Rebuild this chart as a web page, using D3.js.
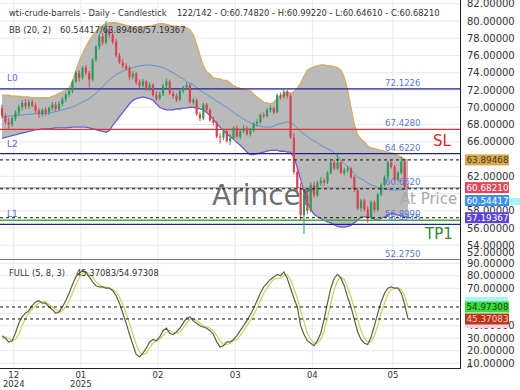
<!DOCTYPE html>
<html>
<head>
<meta charset="utf-8">
<script src="https://cdn.jsdelivr.net/npm/d3@7"></script>
<style>
body { margin: 0; background: #fff; }
svg { display: block; font-family: "DejaVu Sans", sans-serif; }
</style>
</head>
<body>
<svg id="chart" width="520" height="390"></svg>
<script>
// candles, one per daily bar (122 bars shown)
var opens = [69.9,69.0,68.3,68.0,68.7,69.4,70.0,70.5,70.1,70.6,70.2,69.6,69.2,69.7,69.4,69.9,70.3,69.8,70.4,70.9,
  71.5,71.9,73.0,74.0,73.4,74.6,74.0,73.2,75.5,77.0,78.2,77.5,79.0,78.4,77.6,76.0,75.2,74.8,74.5,73.5,
  73.9,72.9,72.5,73.0,72.2,72.6,71.4,71.0,71.5,72.5,73.0,71.6,71.3,70.9,71.9,72.3,72.6,70.6,70.8,69.2,
  68.7,70.3,69.7,68.5,68.2,66.6,66.5,67.2,66.1,66.4,67.6,66.6,67.2,67.6,66.9,67.3,68.1,68.3,69.1,69.0,
  69.7,69.9,69.4,71.4,71.2,71.8,71.3,66.5,62.5,60.6,57.5,59.9,58.0,61.0,59.8,61.2,61.5,61.3,62.4,63.6,
  62.9,63.6,62.4,62.7,62.9,61.9,60.4,58.3,59.2,58.2,57.2,59.0,58.1,59.9,61.0,61.9,63.6,63.1,61.6,62.4,
  63.7,60.7482];
var highs = [70.3,69.3,68.8,68.9,69.6,70.3,70.8,70.9,70.9,70.9,70.5,69.9,69.9,70.0,70.1,70.6,70.6,70.7,71.2,71.7,
  72.2,73.2,74.2,74.3,74.8,74.9,74.2,75.7,77.2,78.5,78.6,80.0,79.4,78.7,77.9,76.3,75.6,75.1,74.8,74.2,
  74.1,73.2,73.3,73.2,72.9,72.8,71.8,71.8,72.7,73.3,73.2,71.9,71.6,72.1,72.5,72.9,72.8,71.1,71.0,69.5,
  70.5,70.5,69.9,68.9,68.4,67.0,67.4,67.4,66.8,67.8,67.9,67.4,67.9,67.8,67.6,68.3,68.6,69.3,69.4,69.9,
  70.2,70.1,71.6,71.7,72.2,72.0,71.5,67.0,63.0,61.2,60.2,60.4,61.3,61.4,61.5,61.9,61.8,62.6,63.8,63.9,
  64.6,63.8,63.0,63.2,63.1,62.1,60.6,59.4,59.4,58.5,59.2,59.2,60.1,61.2,62.1,63.8,63.9,63.3,62.6,64.3,
  63.9,60.9922];
var lows = [68.7,68.0,67.5,67.7,68.4,69.0,69.6,69.8,69.8,70.0,69.3,68.8,68.9,69.0,69.1,69.6,69.5,69.6,70.1,70.6,
  71.2,71.6,72.8,73.0,73.2,73.7,72.3,73.0,75.3,76.7,77.2,77.3,78.0,77.3,75.8,75.0,74.5,74.2,73.2,73.2,
  72.6,72.2,72.3,71.9,71.9,71.2,70.7,70.8,71.3,72.2,71.4,71.0,70.6,70.7,71.6,72.0,70.4,70.3,69.0,68.4,
  68.5,69.4,68.3,67.9,66.4,65.8,66.2,65.9,65.6,66.2,66.4,66.3,67.0,66.7,66.6,67.1,67.8,68.1,68.7,68.8,
  69.4,69.2,69.3,70.9,71.0,71.0,66.3,62.2,60.3,56.9,55.3,57.6,57.8,59.5,59.6,60.9,60.9,61.1,62.2,62.7,
  62.7,62.2,62.1,62.4,61.7,60.2,58.1,57.9,57.9,56.6,57.0,57.8,57.9,59.7,60.8,61.7,62.9,61.4,61.4,62.2,
  60.6,60.6461];
var closes = [69.0,68.3,68.0,68.7,69.4,70.0,70.5,70.1,70.6,70.2,69.6,69.2,69.7,69.4,69.9,70.3,69.8,70.4,70.9,71.5,
  71.9,73.0,74.0,73.4,74.6,74.0,73.2,75.5,77.0,78.2,77.5,79.0,78.4,77.6,76.0,75.2,74.8,74.5,73.5,73.9,
  72.9,72.5,73.0,72.2,72.6,71.4,71.0,71.5,72.5,73.0,71.6,71.3,70.9,71.9,72.3,72.6,70.6,70.8,69.2,68.7,
  70.3,69.7,68.5,68.2,66.6,66.5,67.2,66.1,66.4,67.6,66.6,67.2,67.6,66.9,67.3,68.1,68.3,69.1,69.0,69.7,
  69.9,69.4,71.4,71.2,71.8,71.3,66.5,62.5,60.6,57.5,59.9,58.0,61.0,59.8,61.2,61.5,61.3,62.4,63.6,62.9,
  63.6,62.4,62.7,62.9,61.9,60.4,58.3,59.2,58.2,57.2,59.0,58.1,59.9,61.0,61.9,63.6,63.1,61.6,62.4,63.7,
  60.75,60.6821];

// Bollinger bands (20, 2)
var bbUpper = [71.4,71.4,71.4,71.3,71.3,71.3,71.2,71.2,71.2,71.1,71.1,71.1,71.1,71.1,71.1,71.25,71.4,71.6,71.8,72.0,
  72.2,73.0,74.2,75.3,76.2,77.0,77.7,78.3,78.8,79.2,79.5,79.7,79.8,79.8,79.8,79.7,79.6,79.5,79.4,79.3,
  79.3,79.3,79.3,79.4,79.4,79.5,79.6,79.7,79.7,79.6,79.5,79.4,79.4,79.3,79.3,79.2,79.0,78.4,77.3,76.0,
  74.8,74.1,73.8,73.4,73.3,73.3,73.1,73.1,72.8,72.5,72.3,72.2,72.0,72.0,71.9,71.5,71.2,70.9,70.6,70.5,
  70.4,70.6,71.0,71.3,71.5,71.8,71.6,71.8,72.2,72.8,73.6,74.3,74.5,74.7,74.8,74.9,74.9,74.8,74.8,74.7,
  74.6,74.3,73.5,72.0,70.0,68.0,66.8,66.3,66.0,65.5,65.3,65.2,65.1,65.0,64.9,64.8,64.7,64.6,64.4,64.2,
  64.0,63.89468];
var bbMid = [68.9,68.95,69.0,69.0,69.05,69.1,69.1,69.15,69.2,69.2,69.25,69.25,69.3,69.3,69.3,69.4,69.5,69.6,69.7,69.8,
  69.9,70.05,70.2,70.4,70.6,70.8,71.0,71.3,71.6,72.0,72.4,72.8,73.2,73.5,73.8,74.0,74.2,74.4,74.5,74.6,
  74.7,74.8,74.85,74.9,74.9,74.85,74.8,74.7,74.6,74.4,74.2,74.0,73.8,73.5,73.3,73.0,72.8,72.6,72.3,72.0,
  71.7,71.5,71.2,71.0,70.7,70.5,70.2,70.0,69.7,69.4,69.1,68.9,68.6,68.4,68.2,68.0,67.9,67.8,67.7,67.7,
  67.7,67.8,68.0,68.1,68.2,68.3,68.2,68.0,67.6,67.2,66.9,66.6,66.3,66.1,65.9,65.6,65.4,65.2,65.0,64.7,
  64.3,63.9,63.5,63.1,62.7,62.3,61.9,61.7,61.5,61.2,61.0,60.9,60.7,60.6,60.5,60.45,60.4,60.4,60.4,60.45,
  60.5,60.54417];
var bbLower = [66.4,66.5,66.6,66.7,66.8,66.9,67.0,67.1,67.2,67.3,67.4,67.4,67.5,67.5,67.5,67.55,67.6,67.6,67.6,67.6,
  67.65,67.7,67.7,67.7,67.7,67.7,67.6,67.5,67.4,67.3,67.2,67.1,67.3,67.9,68.4,68.9,69.4,69.9,70.4,70.8,
  71.0,71.1,71.2,71.1,71.0,70.8,70.4,70.0,69.8,69.7,69.7,69.7,69.8,69.8,69.9,69.9,70.0,70.0,69.9,69.8,
  69.7,69.4,69.0,68.6,68.1,67.7,67.3,66.9,66.6,66.3,65.9,65.6,65.2,64.8,64.5,64.5,64.6,64.7,64.8,64.9,
  65.0,65.0,65.0,64.9,64.9,64.8,64.8,64.2,63.0,61.6,60.2,58.9,58.2,57.6,57.3,57.1,56.9,56.7,56.6,56.4,
  56.2,56.1,56.1,56.2,56.3,56.6,56.9,57.3,57.3,57.3,57.2,57.0,56.9,57.1,57.3,57.5,57.7,57.6,57.5,57.4,
  57.3,57.19367];

// stochastic full (5, 8, 3)
var stochK = [32,30,27,28,34,42,47,50,52,56,59,60,58,58,55,53,50,51,55,60,
  66,73,79,82,84,83,79,75,72,71,71,70,70,68,64,58,50,42,33,25,
  17,15,18,22,27,29,28,31,36,38,34,33,35,38,42,46,47,44,42,40,
  39,38,36,33,27,23,24,27,27,29,32,36,40,44,49,54,60,66,71,74,
  77,79,81,80,83,78,70,62,55,40,33,28,26,24,28,34,45,58,70,78,
  81,78,72,63,55,45,35,29,26,25,31,40,50,59,66,70,71,70,70,66,
  57,45.37083];
var stochD = [30,31,30,28,29,33,40,46,50,53,56,58,59,59,57,55,53,51,52,55,
  60,66,73,78,82,83,82,79,75,73,71,71,70,69,67,63,57,50,42,33,
  25,19,17,18,22,26,28,29,32,35,36,35,34,35,38,42,45,46,44,42,
  40,39,38,36,32,28,25,25,26,28,29,32,36,40,44,49,54,60,66,70,
  74,77,78,78,80,81,77,70,62,52,43,34,29,26,26,29,36,46,58,69,
  76,79,77,71,63,54,45,36,30,27,27,32,40,50,58,65,69,70,70,69,
  64,54.97308];

var monthTicks = [3.5, 23.5, 46.5, 69.5, 92.5, 116.5];
var monthLabels = [["12", "2024"], ["01", "2025"], ["02"], ["03"], ["04"], ["05"]];

var levelNames = ["L0", "SL", "L2", "At Price", "TP1", "L1", "TP2"];
var levelValues = [72.1226, 67.4280, 64.6220, 60.6620, 56.8990, 56.4215, 52.2750];

var priceTicks = d3.range(52, 84, 2);
var stochTicks = d3.range(10, 100, 10);
// axis labels the value boxes sit on
var hiddenTicks = [64, 60, 50];

var svg = d3.select("#chart");
var W = 460, mainB = 259, lowT = 260, lowB = 368;

var x = d3.scaleLinear().domain([0, 121]).range([2, 408]);
var y = d3.scaleLinear().domain([80, 56]).range([21, 228]);
var ys = d3.scaleLinear().domain([80, 10]).range([275.7, 363.2]);

var defs = svg.append("defs");
defs.append("clipPath").attr("id", "clipMain").append("rect")
  .attr("x", 0).attr("y", 0).attr("width", W).attr("height", mainB);
defs.append("clipPath").attr("id", "clipLow").append("rect")
  .attr("x", 0).attr("y", lowT).attr("width", W).attr("height", lowB - lowT);

// grid
var grid = svg.append("g").attr("stroke", "#e8e8ee").attr("stroke-width", 1);
grid.selectAll("line.v").data(monthTicks).enter().append("line")
  .attr("x1", function(d) { return x(d); }).attr("x2", function(d) { return x(d); })
  .attr("y1", 0).attr("y2", lowB);
grid.selectAll("line.h").data(priceTicks.filter(function(d) { return y(d) < mainB; })).enter().append("line")
  .attr("x1", 0).attr("x2", W)
  .attr("y1", function(d) { return y(d); }).attr("y2", function(d) { return y(d); });
grid.selectAll("line.s").data(stochTicks).enter().append("line")
  .attr("x1", 0).attr("x2", W)
  .attr("y1", function(d) { return ys(d); }).attr("y2", function(d) { return ys(d); });

var main = svg.append("g").attr("clip-path", "url(#clipMain)");
var idx = d3.range(closes.length);

// bollinger band
main.append("path").datum(idx)
  .attr("fill", "#bababa")
  .attr("d", d3.area().x(function(i) { return x(i); })
    .y0(function(i) { return y(bbLower[i]); }).y1(function(i) { return y(bbUpper[i]); }));
function bandLine(arr, col, w) {
  main.append("path").datum(idx).attr("fill", "none").attr("stroke", col).attr("stroke-width", w)
    .attr("d", d3.line().x(function(i) { return x(i); }).y(function(i) { return y(arr[i]); }));
}
bandLine(bbMid, "#5c93cf", 1);
bandLine(bbUpper, "#d6ab5c", 1.3);
bandLine(bbLower, "#6a58d8", 1.3);

// watermark
main.append("text").attr("x", 212).attr("y", 195).attr("dominant-baseline", "central")
  .attr("font-size", 28).attr("fill", "#555").attr("fill-opacity", 0.85).text("Arincer");

// level lines
var levelColors = ["#1c2490", "#dd3333", "#1c2490", "#9a9a9a", "#4aaa3a", "#1c2490", "#1c2490"];
main.selectAll("line.lvl").data(levelValues).enter().append("line")
  .attr("x1", 0).attr("x2", W)
  .attr("y1", function(d) { return y(d); }).attr("y2", function(d) { return y(d); })
  .attr("stroke", function(d, i) { return levelColors[i]; })
  .attr("stroke-width", 1.3);

// candles
var cg = main.append("g");
cg.selectAll("line").data(idx).enter().append("line")
  .attr("x1", function(i) { return x(i); }).attr("x2", function(i) { return x(i); })
  .attr("y1", function(i) { return y(highs[i]); }).attr("y2", function(i) { return y(lows[i]); })
  .attr("stroke", function(i) { return closes[i] >= opens[i] ? "#2e9a5c" : "#d9434f"; })
  .attr("stroke-width", 1);
cg.selectAll("rect").data(idx).enter().append("rect")
  .attr("x", function(i) { return x(i) - 1.1; }).attr("width", 2.2)
  .attr("y", function(i) { return y(Math.max(opens[i], closes[i])); })
  .attr("height", function(i) { return Math.max(1, Math.abs(y(opens[i]) - y(closes[i]))); })
  .attr("fill", function(i) { return closes[i] >= opens[i] ? "#2e9a5c" : "#d9434f"; });

// dashed current-value lines
var last = closes.length - 1;
var dashVals = [bbUpper[last], bbMid[last], bbLower[last]];
main.selectAll("line.dash").data(dashVals).enter().append("line")
  .attr("x1", 0).attr("x2", W)
  .attr("y1", function(d) { return y(d); }).attr("y2", function(d) { return y(d); })
  .attr("stroke", "#111").attr("stroke-width", 1).attr("stroke-dasharray", "3,3");

// level labels
var lv = main.append("g").attr("dominant-baseline", "central");
lv.selectAll("text.v").data(levelValues).enter().append("text")
  .attr("x", 385)
  .attr("y", function(d) { return Math.min(y(d) - 6, 254); })
  .attr("font-size", 8.6).attr("fill", "#5a78cc")
  .text(function(d) { return d.toFixed(4); });
var nameStyle = {
  "L0": [7, -11, 9, "#4d6fce"], "L2": [7, -10, 9, "#4d6fce"], "L1": [7, -10, 9, "#4d6fce"],
  "SL": [433, 12, 15, "#d42a2a"], "At Price": [400, 11, 15, "#a8a8a8"], "TP1": [425, 14, 15, "#2e8a2a"]
};
levelNames.forEach(function(n, i) {
  var s = nameStyle[n];
  if (!s) return;
  lv.append("text").attr("x", s[0]).attr("y", y(levelValues[i]) + s[1])
    .attr("font-size", s[2]).attr("fill", s[3]).text(n);
});

// stochastic panel
var low = svg.append("g").attr("clip-path", "url(#clipLow)");
function stochLine(arr, col) {
  low.append("path").datum(idx).attr("fill", "none").attr("stroke", col).attr("stroke-width", 1.2)
    .attr("d", d3.line().x(function(i) { return x(i); }).y(function(i) { return ys(arr[i]); }));
}
stochLine(stochD, "#c9d05c");
stochLine(stochK, "#5d6040");
low.selectAll("line.dash").data([stochD[last], stochK[last]]).enter().append("line")
  .attr("x1", 0).attr("x2", W)
  .attr("y1", function(d) { return ys(d); }).attr("y2", function(d) { return ys(d); })
  .attr("stroke", "#111").attr("stroke-width", 1).attr("stroke-dasharray", "3,3");

// frame
svg.append("line").attr("x1", 0).attr("x2", W).attr("y1", 259.5).attr("y2", 259.5).attr("stroke", "#777");
svg.append("line").attr("x1", 0).attr("x2", W).attr("y1", lowB + 0.5).attr("y2", lowB + 0.5).attr("stroke", "#222");
svg.append("line").attr("x1", W + 0.5).attr("x2", W + 0.5).attr("y1", 0).attr("y2", lowB + 1).attr("stroke", "#222");

// right axes
var fmt = d3.format(".5f");
var ax = svg.append("g").attr("transform", "translate(" + W + ",0)")
  .call(d3.axisRight(y).tickValues(priceTicks.filter(function(d) { return hiddenTicks.indexOf(d) < 0; }))
    .tickFormat(fmt).tickSize(0).tickPadding(7));
ax.select(".domain").remove();
ax.selectAll(".tick").filter(function(d) { return d === 52; }).attr("transform", "translate(0,253)");
var ax2 = svg.append("g").attr("transform", "translate(" + W + ",0)")
  .call(d3.axisRight(ys).tickValues(stochTicks.filter(function(d) { return hiddenTicks.indexOf(d) < 0; }))
    .tickFormat(fmt).tickSize(0).tickPadding(7));
ax2.select(".domain").remove();
svg.selectAll(".tick text").attr("font-family", "DejaVu Sans").attr("font-size", 10).attr("fill", "#333");

// value boxes on the axis
var boxes = [
  { v: bbUpper[last], yy: y(bbUpper[last]), fill: "#d8a850", col: "#4a3a18" },
  { v: closes[last], yy: y(closes[last]), fill: "#e2465a", col: "#fff" },
  { v: bbMid[last], yy: 200.5, fill: "#3f90e8", col: "#fff" },
  { v: bbLower[last], yy: y(bbLower[last]), fill: "#5b44da", col: "#fff" },
  { v: stochD[last], yy: ys(stochD[last]), fill: "#36dd36", col: "#2a3a2a" },
  { v: stochK[last], yy: ys(stochK[last]), fill: "#b5391d", col: "#ffc4c4" }
];
svg.append("rect").attr("x", 508).attr("y", 198).attr("width", 12).attr("height", 7).attr("fill", "#a8f4f8");
svg.append("rect").attr("x", 465).attr("y", 297).attr("width", 43).attr("height", 8).attr("fill", "#a8f4f8");
svg.append("rect").attr("x", 465).attr("y", 318).attr("width", 43).attr("height", 10).attr("fill", "#ffd0e4");
var bx = svg.append("g").selectAll("g").data(boxes).enter().append("g");
bx.append("rect").attr("x", 465).attr("width", 44).attr("height", 11)
  .attr("y", function(d) { return d.yy - 5.5; }).attr("fill", function(d) { return d.fill; });
bx.append("text").attr("x", 466.5).attr("y", function(d) { return d.yy; }).attr("dominant-baseline", "central")
  .attr("font-size", 8.8).attr("fill", function(d) { return d.col; })
  .text(function(d) { return fmt(d.v); });

// x axis labels
var xl = svg.append("g").attr("font-size", 8.5).attr("fill", "#333").attr("text-anchor", "middle");
monthTicks.forEach(function(t, i) {
  monthLabels[i].forEach(function(s, j) {
    xl.append("text").attr("x", x(t)).attr("y", 378 + j * 9).text(s);
  });
});
svg.append("text").attr("x", 467).attr("y", 368).attr("font-size", 7).attr("fill", "#333").text("A");

// legends
var lg = svg.append("g").attr("font-size", 8.4).attr("fill", "#333");
lg.append("text").attr("x", 9).attr("y", 15.5).text("wti-crude-barrels - Daily - Candlestick");
lg.append("text").attr("x", 177).attr("y", 15.5)
  .text("122/142 - O:" + fmt(opens[last]) + " - H:" + fmt(highs[last]) + " - L:" + fmt(lows[last]) + " - C:" + fmt(closes[last]));
lg.append("text").attr("x", 9).attr("y", 33).text("BB (20, 2)");
lg.append("text").attr("x", 60).attr("y", 33).text(fmt(bbMid[last]) + "/" + fmt(bbUpper[last]) + "/" + fmt(bbLower[last]));
lg.append("text").attr("x", 9).attr("y", 275.5).text("FULL (5, 8, 3)");
lg.append("text").attr("x", 76).attr("y", 275.5).text(fmt(stochK[last]) + "/" + fmt(stochD[last]));
</script>
</body>
</html>
